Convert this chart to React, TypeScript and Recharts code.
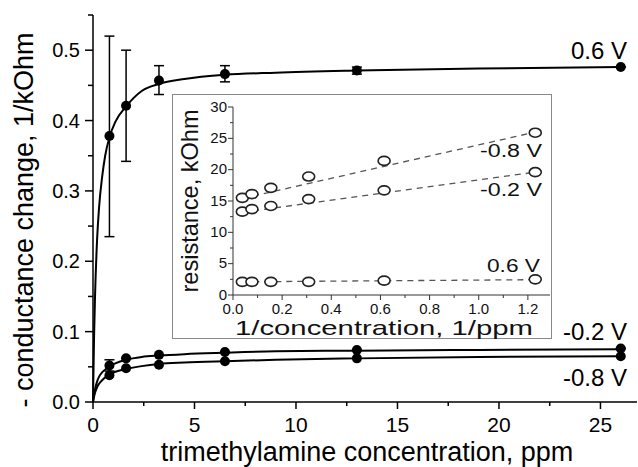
import React from 'react';
import {
  ComposedChart, Line, Scatter, XAxis, YAxis, ErrorBar
} from 'recharts';

const FONT = '"Liberation Sans", Arial, sans-serif';

// --- main chart: conductance change vs concentration ---
const conc = [0.81, 1.63, 3.25, 6.5, 13, 26];
const g06 = [0.378, 0.421, 0.457, 0.466, 0.471, 0.476];
const g06Err = [[0.143, 0.142], [0.079, 0.079], [0.02, 0.021], [0.011, 0.012], [0.005, 0.005], [0, 0]];
const gM02 = [0.052, 0.062, 0.067, 0.071, 0.074, 0.076];
const gM02Err = [[0.008, 0.008], [0, 0], [0, 0], [0, 0], [0, 0], [0, 0]];
const gM08 = [0.038, 0.048, 0.053, 0.058, 0.062, 0.065];

// fitted curves
const fitX = [0, 0.05, 0.1, 0.2, 0.3, 0.45, 0.6, 0.81, 1.1, 1.63, 2.4, 3.25, 4.5, 6.5, 9, 13, 19, 26];
const fit06 = [0, 0.09, 0.15, 0.23, 0.277, 0.32, 0.35, 0.376, 0.398, 0.42, 0.442, 0.452, 0.459, 0.465, 0.468, 0.471, 0.474, 0.476];
const fitM02 = [0, 0.01, 0.018, 0.029, 0.036, 0.042, 0.046, 0.051, 0.055, 0.06, 0.064, 0.066, 0.068, 0.07, 0.072, 0.073, 0.074, 0.075];
const fitM08 = [0, 0.007, 0.013, 0.021, 0.026, 0.031, 0.035, 0.039, 0.043, 0.047, 0.051, 0.054, 0.056, 0.058, 0.06, 0.062, 0.064, 0.065];

const mainXTicks = [0, 2.5, 5, 7.5, 10, 12.5, 15, 17.5, 20, 22.5, 25];
const mainYTicks = [0, 0.05, 0.1, 0.15, 0.2, 0.25, 0.3, 0.35, 0.4, 0.45, 0.5, 0.55];

// --- inset: resistance vs 1/concentration ---
const invConc = [0.038, 0.077, 0.154, 0.308, 0.615, 1.23];
const r06 = [2.1, 2.1, 2.1, 2.1, 2.3, 2.5];
const rM02 = [13.3, 13.7, 14.2, 15.3, 16.7, 19.6];
const rM08 = [15.5, 16.1, 17.1, 18.9, 21.4, 25.9];
const lineInvX = [0.038, 1.23];
const line06 = [2.1, 2.45];
const lineM02 = [13.2, 19.6];
const lineM08 = [15.4, 26.0];

const insetXTicks = [0, 0.1, 0.2, 0.3, 0.4, 0.5, 0.6, 0.7, 0.8, 0.9, 1.0, 1.1, 1.2];
const insetYTicks = [0, 2.5, 5, 7.5, 10, 12.5, 15, 17.5, 20, 22.5, 25, 27.5, 30];

const pts = (xs: number[], ys: number[], errs?: number[][]) =>
  xs.map((x, i) => ({ x, y: ys[i], err: errs ? errs[i] : undefined }));

const MainXTick = ({ x, y, payload }: any) => {
  const v = payload.value;
  const major = v % 5 === 0;
  return (
    <g>
      <line x1={x} x2={x} y1={y} y2={y + (major ? 7 : 4)} stroke="#000" strokeWidth={1.5} />
      {major && (
        <text x={x} y={y + 30} textAnchor="middle" fontSize={21} fontFamily={FONT} fill="#000">{v}</text>
      )}
    </g>
  );
};

const MainYTick = ({ x, y, payload }: any) => {
  const v = payload.value;
  const major = Math.round(v * 100) % 10 === 0;
  return (
    <g>
      <line x1={x} x2={x - (major ? 8 : 5)} y1={y} y2={y} stroke="#000" strokeWidth={1.5} />
      {major && (
        <text x={x - 13} y={y + 7} textAnchor="end" fontSize={20} fontFamily={FONT} fill="#000">{v.toFixed(1)}</text>
      )}
    </g>
  );
};

const InsetXTick = ({ x, y, payload }: any) => {
  const v = payload.value;
  const major = Math.round(v * 10) % 2 === 0;
  return (
    <g>
      <line x1={x} x2={x} y1={y} y2={y + (major ? 5 : 3)} stroke="#333" strokeWidth={1} />
      {major && (
        <text x={x} y={y + 19} textAnchor="middle" fontSize={15} fontFamily={FONT} fill="#111">{v.toFixed(1)}</text>
      )}
    </g>
  );
};

const InsetYTick = ({ x, y, payload }: any) => {
  const v = payload.value;
  const major = v % 5 === 0;
  return (
    <g>
      <line x1={x} x2={x - (major ? 5 : 3)} y1={y} y2={y} stroke="#333" strokeWidth={1} />
      {major && (
        <text x={x - 6} y={y + 4.5} textAnchor="end" fontSize={15} fontFamily={FONT} fill="#111">{v}</text>
      )}
    </g>
  );
};

const Dot = (p: any) => <circle cx={p.cx} cy={p.cy} r={5} fill="#000" />;
const OpenDot = (p: any) => (
  <ellipse cx={p.cx} cy={p.cy} rx={6} ry={4.5} fill="#fff" stroke="#222" strokeWidth={1.6} />
);

const MainChart = () => (
  <ComposedChart width={638} height={467} margin={{ top: 15, right: 1, bottom: 0, left: 0 }}>
    <XAxis
      dataKey="x" type="number" domain={[0, 26.8]} ticks={mainXTicks} interval={0}
      height={65} tickSize={0} tickMargin={0} tickLine={false}
      axisLine={{ stroke: '#000', strokeWidth: 1.5 }} tick={<MainXTick />}
    />
    <YAxis
      type="number" domain={[0, 0.55]} ticks={mainYTicks} interval={0}
      width={93} tickSize={0} tickMargin={0} tickLine={false}
      axisLine={{ stroke: '#000', strokeWidth: 1.5 }} tick={<MainYTick />}
    />
    <Line data={pts(fitX, fit06)} dataKey="y" type="monotone" dot={false} stroke="#000" strokeWidth={2} isAnimationActive={false} />
    <Line data={pts(fitX, fitM02)} dataKey="y" type="monotone" dot={false} stroke="#000" strokeWidth={2} isAnimationActive={false} />
    <Line data={pts(fitX, fitM08)} dataKey="y" type="monotone" dot={false} stroke="#000" strokeWidth={2} isAnimationActive={false} />
    <Scatter data={pts(conc, g06, g06Err)} dataKey="y" shape={Dot} isAnimationActive={false}>
      <ErrorBar dataKey="err" direction="y" width={5} stroke="#000" strokeWidth={1.5} />
    </Scatter>
    <Scatter data={pts(conc, gM02, gM02Err)} dataKey="y" shape={Dot} isAnimationActive={false}>
      <ErrorBar dataKey="err" direction="y" width={5} stroke="#000" strokeWidth={1.5} />
    </Scatter>
    <Scatter data={pts(conc, gM08)} dataKey="y" shape={Dot} isAnimationActive={false} />
  </ComposedChart>
);

const InsetChart = () => (
  <ComposedChart width={378} height={243} margin={{ top: 12, right: 1, bottom: 0, left: 0 }}>
    <XAxis
      dataKey="x" type="number" domain={[0, 1.29]} ticks={insetXTicks} interval={0}
      height={43} tickSize={0} tickMargin={0} tickLine={false}
      axisLine={{ stroke: '#333', strokeWidth: 1 }} tick={<InsetXTick />}
    />
    <YAxis
      type="number" domain={[0, 30]} ticks={insetYTicks} interval={0}
      width={60} tickSize={0} tickMargin={0} tickLine={false}
      axisLine={{ stroke: '#333', strokeWidth: 1 }} tick={<InsetYTick />}
    />
    <Line data={pts(lineInvX, lineM08)} dataKey="y" dot={false} stroke="#555" strokeWidth={1.3} strokeDasharray="6 5" isAnimationActive={false} />
    <Line data={pts(lineInvX, lineM02)} dataKey="y" dot={false} stroke="#555" strokeWidth={1.3} strokeDasharray="6 5" isAnimationActive={false} />
    <Line data={pts(lineInvX, line06)} dataKey="y" dot={false} stroke="#555" strokeWidth={1.3} strokeDasharray="6 5" isAnimationActive={false} />
    <Scatter data={pts(invConc, rM08)} dataKey="y" shape={OpenDot} isAnimationActive={false} />
    <Scatter data={pts(invConc, rM02)} dataKey="y" shape={OpenDot} isAnimationActive={false} />
    <Scatter data={pts(invConc, r06)} dataKey="y" shape={OpenDot} isAnimationActive={false} />
  </ComposedChart>
);

export default function App() {
  return (
    <div style={{ position: 'absolute', left: 0, top: 0, width: 638, height: 467, background: '#fff', fontFamily: FONT }}>
      <MainChart />
      <div style={{
        position: 'absolute', left: 172, top: 94, width: 380, height: 245,
        border: '1px solid #888', boxSizing: 'border-box', background: '#fff'
      }}>
        <InsetChart />
      </div>
      <svg width={638} height={467} style={{ position: 'absolute', left: 0, top: 0, pointerEvents: 'none' }}>
        <g fontFamily={FONT} fill="#000">
          <text x={367} y={461} textAnchor="middle" fontSize={27}>trimethylamine concentration, ppm</text>
          <text x={33} y={220} textAnchor="middle" fontSize={27} transform="rotate(-90 33 220)">- conductance change, 1/kOhm</text>
          <text x={627} y={59} textAnchor="end" fontSize={24}>0.6 V</text>
          <text x={627} y={340} textAnchor="end" fontSize={24}>-0.2 V</text>
          <text x={627} y={386} textAnchor="end" fontSize={24}>-0.8 V</text>
        </g>
        <g fontFamily={FONT} fill="#111">
          <text x={384} y={335} textAnchor="middle" fontSize={21} textLength={298} lengthAdjust="spacingAndGlyphs">1/concentration, 1/ppm</text>
          <text x={198} y={201} textAnchor="middle" fontSize={24} textLength={183} lengthAdjust="spacingAndGlyphs" transform="rotate(-90 198 201)">resistance, kOhm</text>
          <text x={542} y={157} textAnchor="end" fontSize={18} textLength={62} lengthAdjust="spacingAndGlyphs">-0.8 V</text>
          <text x={542} y={196} textAnchor="end" fontSize={18} textLength={62} lengthAdjust="spacingAndGlyphs">-0.2 V</text>
          <text x={540} y={272} textAnchor="end" fontSize={18} textLength={53} lengthAdjust="spacingAndGlyphs">0.6 V</text>
        </g>
      </svg>
    </div>
  );
}
